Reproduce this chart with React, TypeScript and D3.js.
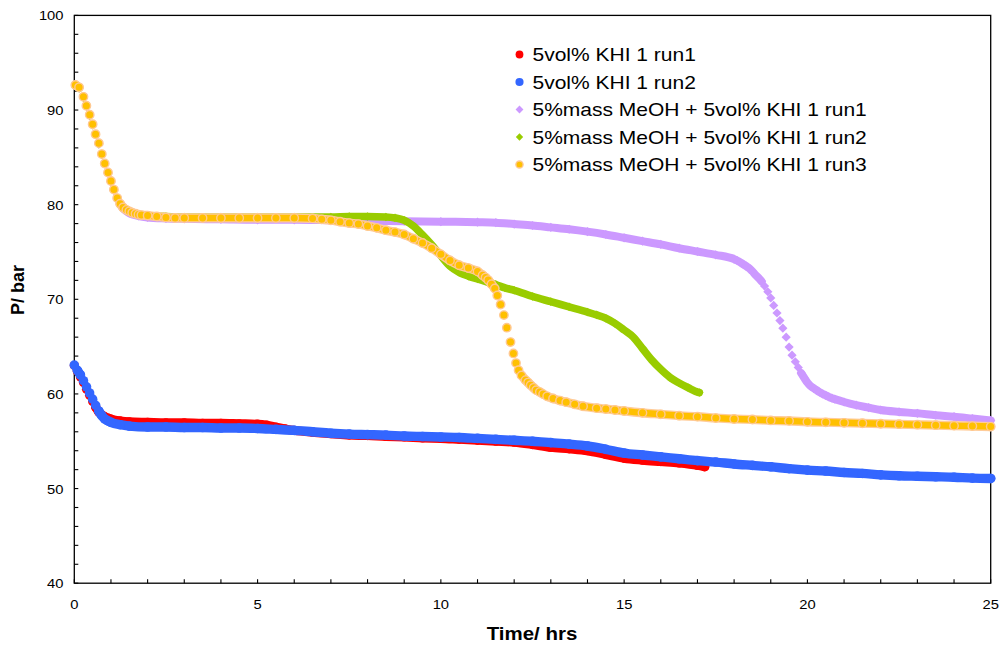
import React from 'react';
import * as d3 from 'd3';

type Pt = [number, number];

// ---------- DATA (time in hrs, pressure in bar) ----------
const khiRun1: Pt[] = [
  [0, 63.0], [0.083, 62.4], [0.167, 61.8], [0.25, 61.2], [0.333, 60.5], [0.417, 59.85], [0.5, 59.2], [0.583, 58.6],
  [0.667, 58.1], [0.75, 57.8], [0.833, 57.6], [0.917, 57.45], [1.0, 57.35], [1.25, 57.15], [1.5, 57.05], [2, 57.0],
  [2.5, 56.95], [3, 56.95], [3.5, 56.9], [4, 56.9], [4.5, 56.85], [5, 56.8], [5.25, 56.7], [5.5, 56.5], [5.75, 56.3],
  [6, 56.15], [6.5, 55.95], [7, 55.8], [7.5, 55.65], [8, 55.6], [8.5, 55.5], [9, 55.45], [9.5, 55.35], [10, 55.3],
  [10.5, 55.2], [11, 55.1], [11.5, 55.0], [12, 54.9], [12.5, 54.65], [13, 54.35], [13.5, 54.2], [14, 54.0],
  [14.5, 53.6], [15, 53.2], [15.5, 53.0], [16, 52.85], [16.5, 52.7], [17, 52.45], [17.2, 52.3],
];

const khiRun2: Pt[] = [
  [0, 63.05], [0.083, 62.5], [0.167, 62.0], [0.25, 61.4], [0.333, 60.75], [0.417, 60.1], [0.5, 59.45], [0.583, 58.8],
  [0.667, 58.2], [0.75, 57.7], [0.833, 57.35], [0.917, 57.15], [1.0, 57.0], [1.25, 56.75], [1.5, 56.6], [2, 56.5],
  [2.5, 56.5], [3, 56.45], [3.5, 56.45], [4, 56.4], [4.5, 56.4], [5, 56.35], [5.5, 56.25], [6, 56.15], [6.5, 56.0],
  [7, 55.85], [7.5, 55.75], [8, 55.7], [8.5, 55.65], [9, 55.55], [9.5, 55.5], [10, 55.45], [10.5, 55.4], [11, 55.3],
  [11.5, 55.2], [12, 55.1], [12.5, 55.0], [13, 54.85], [13.5, 54.7], [14, 54.5], [14.5, 54.15], [15, 53.75],
  [15.5, 53.55], [16, 53.35], [16.5, 53.15], [17, 52.95], [17.5, 52.8], [18, 52.6], [18.5, 52.45], [19, 52.3],
  [19.5, 52.1], [20, 51.95], [20.5, 51.85], [21, 51.7], [21.5, 51.6], [22, 51.45], [22.5, 51.35], [23, 51.3],
  [23.5, 51.25], [24, 51.2], [24.5, 51.1], [25, 51.07],
];

const meohRun1: Pt[] = [
  [0.03, 92.6], [0.13, 92.35], [0.25, 91.35], [0.33, 90.4], [0.42, 89.45], [0.5, 88.45], [0.58, 87.4], [0.67, 86.4],
  [0.75, 85.3], [0.83, 84.3], [0.92, 83.3], [1.0, 82.4], [1.08, 81.5], [1.17, 80.6], [1.25, 80.0], [1.33, 79.6],
  [1.42, 79.3], [1.5, 79.1], [1.75, 78.8], [2, 78.65], [2.5, 78.55], [3, 78.5], [4, 78.45], [5, 78.4], [6, 78.4],
  [7, 78.35], [8, 78.3], [9, 78.25], [10, 78.2], [11, 78.15], [11.5, 78.1], [12, 77.95], [12.5, 77.8], [13, 77.6],
  [13.5, 77.4], [14, 77.15], [14.5, 76.85], [15, 76.5], [15.5, 76.15], [16, 75.8], [16.5, 75.4], [17, 75.05],
  [17.5, 74.7], [18, 74.25], [18.08, 74.1], [18.17, 73.9], [18.25, 73.7], [18.33, 73.5], [18.42, 73.26],
  [18.5, 72.95], [18.58, 72.6], [18.67, 72.25], [18.75, 71.9], [18.83, 71.4], [18.92, 70.8], [19.0, 70.15],
  [19.08, 69.35], [19.17, 68.55], [19.25, 67.75], [19.33, 66.95], [19.42, 66.0], [19.5, 64.95], [19.58, 64.1],
  [19.67, 63.4], [19.75, 62.8], [19.83, 62.2], [19.92, 61.65], [20.0, 61.2], [20.08, 60.85], [20.17, 60.6],
  [20.25, 60.4], [20.33, 60.2], [20.42, 60.0], [20.5, 59.85], [20.58, 59.7], [20.67, 59.55], [20.75, 59.45],
  [21.0, 59.15], [21.33, 58.82], [21.67, 58.55], [22.0, 58.3], [22.5, 58.1], [23.0, 57.95], [23.5, 57.75],
  [24.0, 57.6], [24.5, 57.4], [25.0, 57.2],
];

const meohRun2: Pt[] = [
  [0.03, 92.55], [0.13, 92.3], [0.25, 91.3], [0.33, 90.4], [0.42, 89.4], [0.5, 88.4], [0.58, 87.4], [0.67, 86.4],
  [0.75, 85.3], [0.83, 84.3], [0.92, 83.35], [1.0, 82.45], [1.08, 81.55], [1.17, 80.65], [1.25, 80.05], [1.33, 79.65],
  [1.42, 79.4], [1.5, 79.2], [1.75, 78.95], [2, 78.85], [2.5, 78.75], [3, 78.7], [4, 78.7], [5, 78.7], [6, 78.7],
  [7, 78.7], [7.5, 78.75], [8, 78.75], [8.5, 78.7], [8.75, 78.6], [9.0, 78.35], [9.25, 77.75], [9.5, 76.8],
  [9.75, 75.75], [10.0, 74.6], [10.25, 73.5], [10.5, 72.85], [10.75, 72.45], [11.0, 72.15], [11.25, 71.85],
  [11.5, 71.55], [11.75, 71.2], [12.0, 70.95], [12.5, 70.3], [13.0, 69.75], [13.5, 69.2], [14.0, 68.65],
  [14.25, 68.35], [14.5, 68.0], [14.75, 67.45], [15.0, 66.75], [15.25, 66.0], [15.5, 64.8], [15.75, 63.6],
  [16.0, 62.6], [16.25, 61.75], [16.5, 61.15], [16.75, 60.65], [17.0, 60.2], [17.05, 60.15],
];

const meohRun3: Pt[] = [
  [0.03, 92.65], [0.13, 92.4], [0.25, 91.4], [0.33, 90.45], [0.42, 89.5], [0.5, 88.5], [0.58, 87.45], [0.67, 86.5],
  [0.75, 85.35], [0.83, 84.35], [0.92, 83.4], [1.0, 82.5], [1.08, 81.6], [1.17, 80.7], [1.25, 80.1], [1.33, 79.7],
  [1.42, 79.45], [1.5, 79.3], [1.58, 79.15], [1.67, 79.05], [1.75, 78.95], [1.83, 78.9], [2.0, 78.85], [2.25, 78.75],
  [2.5, 78.65], [2.75, 78.6], [3, 78.6], [3.5, 78.6], [4, 78.6], [4.5, 78.6], [5, 78.6], [5.5, 78.6], [6, 78.6],
  [6.5, 78.55], [6.75, 78.45], [7.0, 78.35], [7.25, 78.2], [7.5, 78.05], [7.75, 77.95], [8.0, 77.75], [8.25, 77.55],
  [8.5, 77.3], [8.75, 77.1], [9.0, 76.85], [9.25, 76.4], [9.5, 75.95], [9.75, 75.4], [10.0, 74.75], [10.25, 74.1],
  [10.5, 73.6], [10.75, 73.3], [11.0, 72.95], [11.14, 72.55], [11.22, 72.3], [11.29, 72.03], [11.38, 71.6],
  [11.47, 71.15], [11.54, 70.4], [11.63, 69.45], [11.72, 68.33], [11.8, 67.0], [11.9, 65.48], [11.98, 64.28],
  [12.05, 63.26], [12.12, 62.5], [12.2, 61.96], [12.31, 61.46], [12.38, 61.2], [12.45, 60.93], [12.53, 60.65],
  [12.6, 60.4], [12.7, 60.2], [12.79, 59.98], [12.9, 59.75], [13.06, 59.52], [13.25, 59.3], [13.42, 59.13],
  [13.65, 58.9], [13.88, 58.7], [14.25, 58.5], [14.5, 58.4], [14.75, 58.3], [15.0, 58.2], [15.5, 58.0], [16, 57.85],
  [16.5, 57.7], [17, 57.6], [17.5, 57.45], [18, 57.35], [18.5, 57.3], [19, 57.2], [19.5, 57.15], [20, 57.05],
  [20.5, 57.0], [21, 56.95], [21.5, 56.9], [22, 56.85], [22.5, 56.8], [23, 56.75], [23.5, 56.7], [24, 56.65],
  [24.5, 56.6], [25, 56.55],
];

const seriesNames = [
  '5vol% KHI 1 run1',
  '5vol% KHI 1 run2',
  '5%mass MeOH + 5vol% KHI 1 run1',
  '5%mass MeOH + 5vol% KHI 1 run2',
  '5%mass MeOH + 5vol% KHI 1 run3',
];
const xTickLabels = [0, 5, 10, 15, 20, 25];
const yTickLabels = [40, 50, 60, 70, 80, 90, 100];

// ---------- LAYOUT ----------
const W = 1000;
const H = 650;
const X0 = 74.3, X1 = 990.7, Y0 = 15.4, Y1 = 583.2;
const FONT = "'Liberation Sans', Arial, sans-serif";

const x = d3.scaleLinear().domain([0, 25]).range([X0, X1]);
const y = d3.scaleLinear().domain([40, 100]).range([Y1, Y0]);

type Style = {
  shape: 'circle' | 'diamond';
  fill: string;
  stroke?: string;
  size: number; // radius or half-diagonal
  band: number;
  bandEdge?: string;
};

const styles: Style[] = [
  { shape: 'circle', fill: '#FF0000', size: 4.6, band: 9 },
  { shape: 'circle', fill: '#3366FF', size: 4.8, band: 9.4 },
  { shape: 'diamond', fill: '#CC99FF', size: 4.6, band: 8 },
  { shape: 'diamond', fill: '#99CC00', size: 4.3, band: 7.6 },
  { shape: 'circle', fill: '#FFC000', stroke: '#FFC890', size: 4.2, band: 6.5, bandEdge: '#FFCC99' },
];

const allSeries: Pt[][] = [khiRun1, khiRun2, meohRun1, meohRun2, meohRun3];

const line = d3
  .line<Pt>()
  .x((d) => x(d[0]))
  .y((d) => y(d[1]))
  .curve(d3.curveMonotoneX);

function bandRuns(points: Pt[]): Pt[][] {
  const out: Pt[][] = [];
  let cur: Pt[] = [];
  for (let i = 1; i < points.length; i++) {
    const a = points[i - 1];
    const b = points[i];
    const dx = Math.abs(x(b[0]) - x(a[0]));
    const dy = Math.abs(y(b[1]) - y(a[1]));
    if (dy <= 1.6 * dx) {
      if (cur.length === 0) cur.push(a);
      cur.push(b);
    } else {
      if (cur.length > 1) out.push(cur);
      cur = [];
    }
  }
  if (cur.length > 1) out.push(cur);
  return out;
}

const square = d3.symbol().type(d3.symbolSquare);

function Marker({ cx, cy, st, scale = 1 }: { cx: number; cy: number; st: Style; scale?: number }) {
  const s = st.size * scale;
  if (st.shape === 'circle') {
    return <circle cx={cx} cy={cy} r={s} fill={st.fill} stroke={st.stroke || 'none'} strokeWidth={st.stroke ? 1.4 : 0} />;
  }
  const side = s * Math.SQRT2;
  return <path d={square.size(side * side)() || ''} transform={`translate(${cx},${cy}) rotate(45)`} fill={st.fill} />;
}

function SText({ x: tx, y: ty, sx = 1, anchor = 'start', size, bold = false, children }: any) {
  return (
    <g transform={`translate(${tx},${ty}) scale(${sx},1)`}>
      <text x={0} y={0} textAnchor={anchor} fontFamily={FONT} fontSize={size} fontWeight={bold ? 'bold' : 'normal'} fill="#000">
        {children}
      </text>
    </g>
  );
}

export default function App() {
  const yMinor = d3.range(40, 100.001, 2);
  const xMinor = d3.range(0, 25.001, 1);
  const legendY = [54.5, 82, 109.5, 137, 164.5];

  return (
    <svg width={W} height={H} viewBox={`0 0 ${W} ${H}`} style={{ display: 'block', position: 'absolute', left: 0, top: 0, background: '#fff' }}>
      <rect x={0} y={0} width={W} height={H} fill="#fff" />
      {/* plot frame */}
      <rect x={X0} y={Y0} width={X1 - X0} height={Y1 - Y0} fill="none" stroke="#000" strokeWidth={1.3} />
      {/* y ticks */}
      {yMinor.map((v) => (
        <line key={'yt' + v} x1={X0} x2={X0 + 4} y1={y(v)} y2={y(v)} stroke="#000" strokeWidth={1.1} />
      ))}
      {yTickLabels.map((v) => (
        <SText key={'yl' + v} x={63.5} y={y(v) + 5} sx={1.1} anchor="end" size={13.4}>
          {v}
        </SText>
      ))}
      {/* x ticks */}
      {xMinor.map((v) => (
        <line key={'xt' + v} x1={x(v)} x2={x(v)} y1={Y1} y2={Y1 - 4} stroke="#000" strokeWidth={1.1} />
      ))}
      {xTickLabels.map((v) => (
        <SText key={'xl' + v} x={x(v)} y={609} sx={1.1} anchor="middle" size={13.4}>
          {v}
        </SText>
      ))}
      {/* axis titles */}
      <SText x={532} y={640} sx={1.15} anchor="middle" size={17.8} bold>
        Time/ hrs
      </SText>
      <g transform={`translate(24,290) rotate(-90)`}>
        <text x={0} y={0} textAnchor="middle" fontFamily={FONT} fontSize={18} fontWeight="bold">
          P/ bar
        </text>
      </g>

      {/* series */}
      {allSeries.map((pts, si) => {
        const st = styles[si];
        const runs = bandRuns(pts);
        return (
          <g key={'s' + si}>
            {st.bandEdge &&
              runs.map((r, ri) => (
                <path key={'be' + ri} d={line(r) || ''} fill="none" stroke={st.bandEdge} strokeWidth={st.band + 2.6} strokeLinecap="round" strokeLinejoin="round" />
              ))}
            {runs.map((r, ri) => (
              <path key={'b' + ri} d={line(r) || ''} fill="none" stroke={st.fill} strokeWidth={st.band} strokeLinecap="round" strokeLinejoin="round" />
            ))}
            {pts.map((p, pi) => (
              <Marker key={'m' + pi} cx={x(p[0])} cy={y(p[1])} st={st} />
            ))}
          </g>
        );
      })}

      {/* legend */}
      {seriesNames.map((name, i) => (
        <g key={'lg' + i}>
          <Marker cx={519.5} cy={legendY[i]} st={styles[i]} scale={0.85} />
          <SText x={532.5} y={legendY[i] + 6.5} sx={1.167} size={18}>
            {name}
          </SText>
        </g>
      ))}
    </svg>
  );
}
